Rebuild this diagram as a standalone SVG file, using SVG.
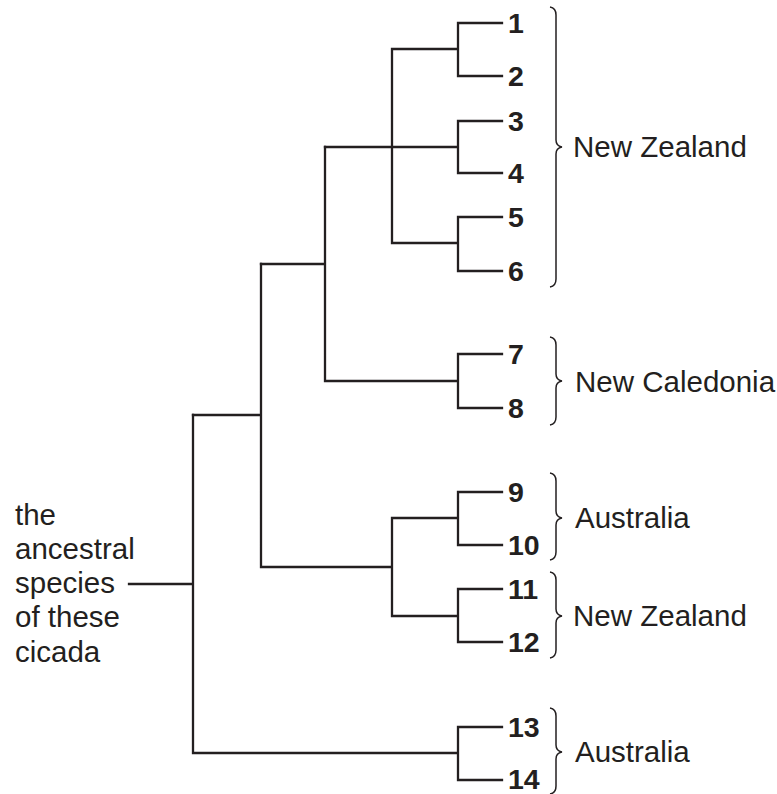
<svg xmlns="http://www.w3.org/2000/svg" width="777" height="794" viewBox="0 0 777 794">
<style>
.br{fill:none;stroke:#231f20;stroke-width:2.3;stroke-linecap:square}
.brace{fill:none;stroke:#231f20;stroke-width:1.5}
.num{font-family:"Liberation Sans",Arial,sans-serif;font-weight:bold;font-size:28.5px;fill:#231f20}
.lbl{font-family:"Liberation Sans",Arial,sans-serif;font-size:29.5px;fill:#231f20}
</style>
<rect width="777" height="794" fill="#fff"/>
<g id="connectors">
<path class="br" d="M502,23H458V76H502M458,49H392M502,121H458V173H502M458,147H325M502,217H458V271H502M458,243H392M392,49V243"/>
<path class="br" d="M502,354H458V408H502M458,381H325M325,147V381M325,264H261"/>
<path class="br" d="M502,492H458V545H502M458,518H392M502,589H458V642H502M458,616H392M392,518V616M392,567H261M261,264V567M261,415H193"/>
<path class="br" d="M502,727H458V780H502M458,753H193M193,415V753M193,584H129"/>
</g>
<g id="leaves">
<text class="num" x="508" y="33">1</text>
<text class="num" x="508" y="86">2</text>
<text class="num" x="508" y="131">3</text>
<text class="num" x="508" y="183">4</text>
<text class="num" x="508" y="227">5</text>
<text class="num" x="508" y="281">6</text>
<text class="num" x="508" y="364">7</text>
<text class="num" x="508" y="418">8</text>
<text class="num" x="508" y="502">9</text>
<text class="num" x="508" y="555">10</text>
<text class="num" x="508" y="599">11</text>
<text class="num" x="508" y="652">12</text>
<text class="num" x="508" y="737">13</text>
<text class="num" x="508" y="789">14</text>
</g>
<g id="group-nz1">
<path class="brace" d="M550,7Q556,8 556,15V140Q556,146 562,147Q556,148 556,154V279Q556,286 550,287"/>
<text class="lbl" x="573" y="157">New Zealand</text>
</g>
<g id="group-nc">
<path class="brace" d="M550,337Q556,338 556,345V374Q556,380 562,381Q556,382 556,388V417Q556,424 550,425"/>
<text class="lbl" x="575" y="392">New Caledonia</text>
</g>
<g id="group-au1">
<path class="brace" d="M550,473Q556,474 556,481V511Q556,517 562,518Q556,519 556,525V552Q556,559 550,560"/>
<text class="lbl" x="575" y="528">Australia</text>
</g>
<g id="group-nz2">
<path class="brace" d="M550,572Q556,573 556,580V609Q556,615 562,616Q556,617 556,623V650Q556,657 550,658"/>
<text class="lbl" x="573" y="626">New Zealand</text>
</g>
<g id="group-au2">
<path class="brace" d="M550,708Q556,709 556,716V745Q556,751 562,752Q556,753 556,759V786Q556,793 550,794"/>
<text class="lbl" x="575" y="762">Australia</text>
</g>
<g id="ancestor">
<text class="lbl" x="15" y="525">the</text>
<text class="lbl" x="15" y="559">ancestral</text>
<text class="lbl" x="15" y="593">species</text>
<text class="lbl" x="15" y="627">of these</text>
<text class="lbl" x="15" y="662">cicada</text>
</g>
</svg>
